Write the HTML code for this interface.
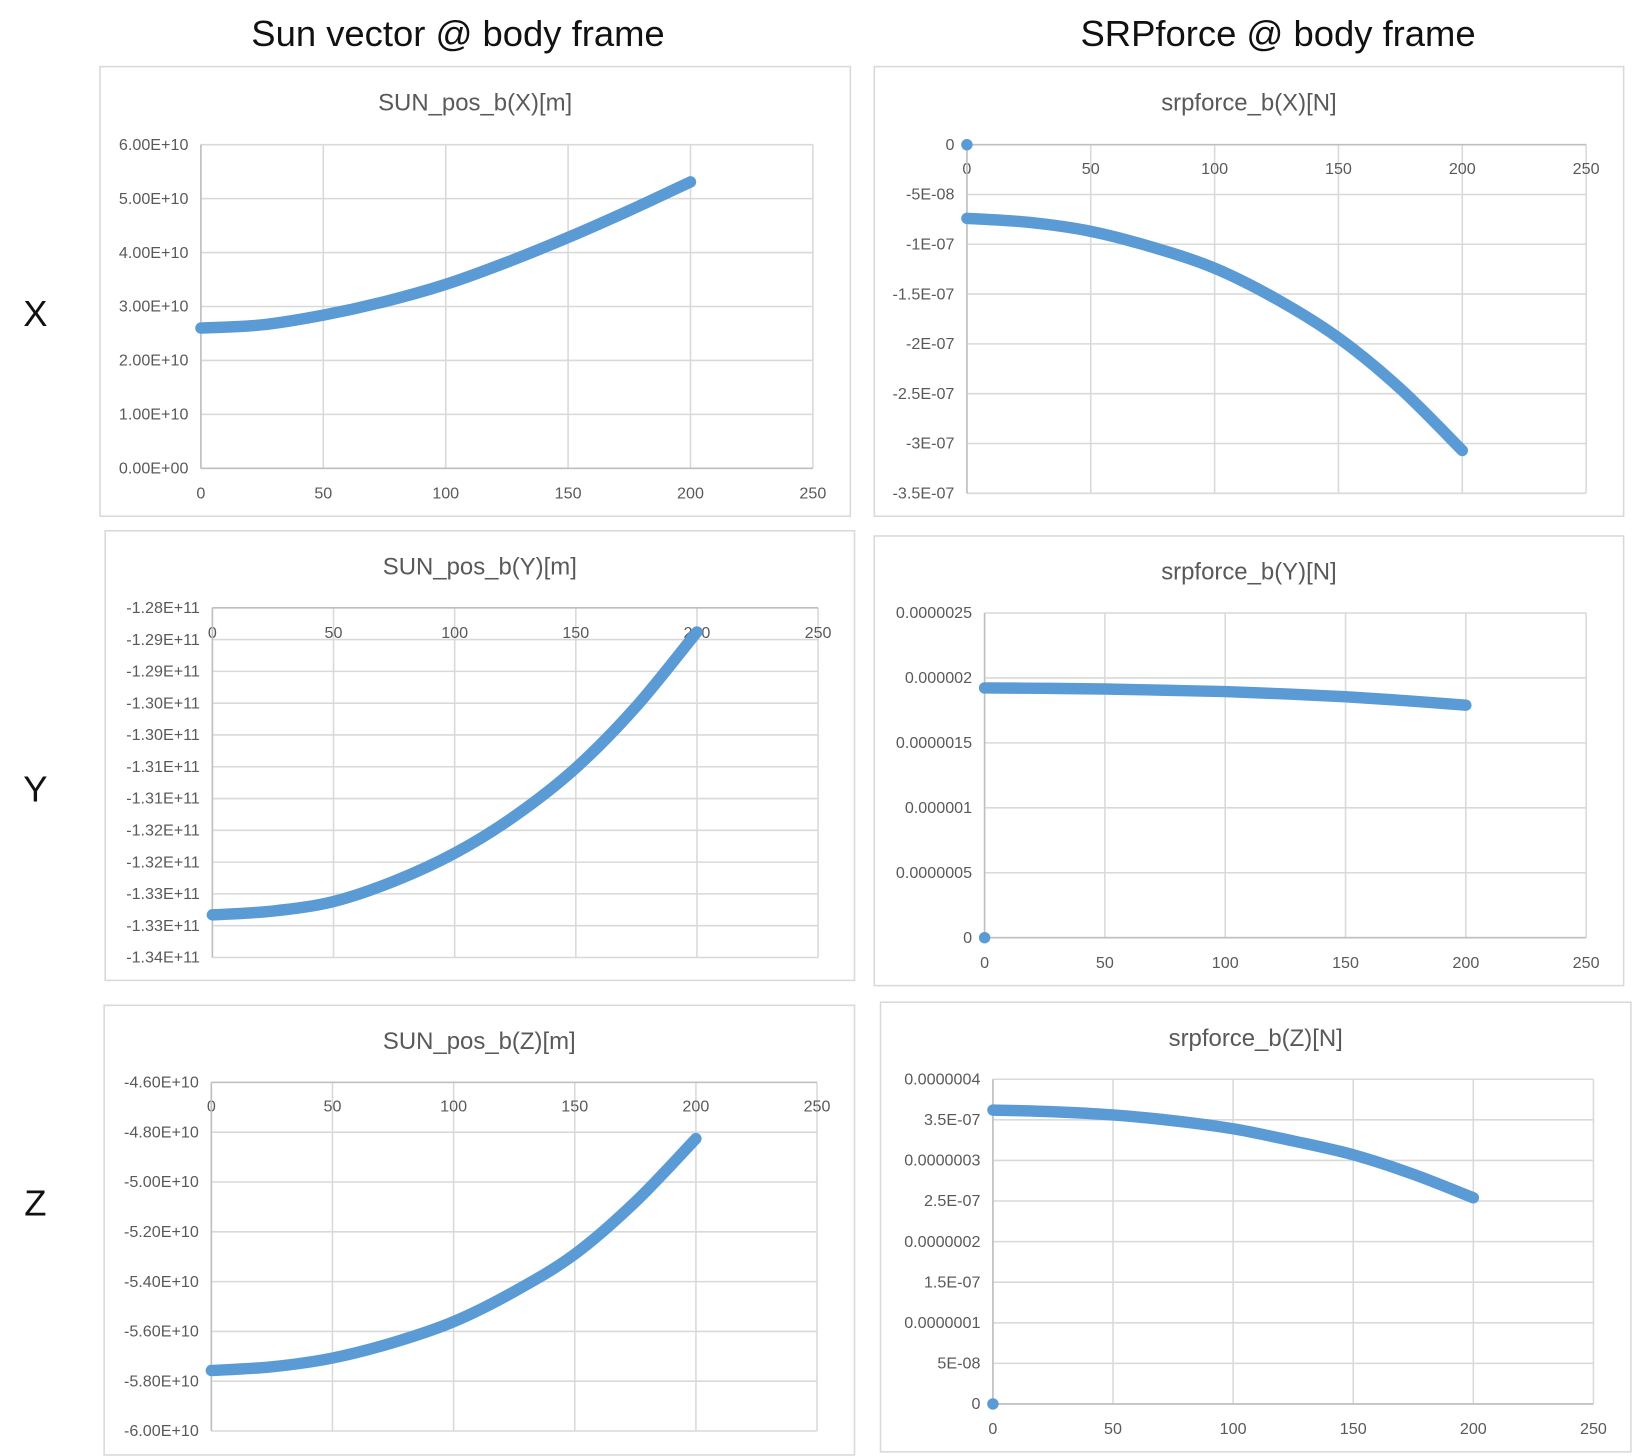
<!DOCTYPE html>
<html><head><meta charset="utf-8">
<style>
html,body{margin:0;padding:0;background:#fff;}
svg{display:block;font-family:"Liberation Sans","Noto Sans CJK JP",sans-serif;}
</style></head>
<body>
<svg id="root" width="1632" height="1456" viewBox="0 0 1568 1399" xmlns="http://www.w3.org/2000/svg">
<text x="440" y="44" font-size="35" text-anchor="middle" fill="#111">Sun vector @ body frame</text>
<text x="1228" y="44" font-size="35" text-anchor="middle" fill="#111">SRPforce @ body frame</text>
<text x="34" y="313" font-size="35" text-anchor="middle" fill="#111">X</text>
<text x="34" y="770" font-size="35" text-anchor="middle" fill="#111">Y</text>
<text x="34" y="1168" font-size="35" text-anchor="middle" fill="#111">Z</text>
</svg>
<script>
// ---- data arrays ----
const xCats = [0, 25, 50, 75, 100, 125, 150, 175, 200];
const sunX = [2.60e10, 2.66e10, 2.84e10, 3.09e10, 3.41e10, 3.82e10, 4.28e10, 4.78e10, 5.31e10];
const sunY = [-1.3283e11, -1.3277e11, -1.3262e11, -1.3230e11, -1.3186e11, -1.3127e11, -1.3052e11, -1.2955e11, -1.2838e11];
const sunZ = [-5.757e10, -5.742e10, -5.707e10, -5.645e10, -5.561e10, -5.44e10, -5.29e10, -5.08e10, -4.826e10];
const srpX = [-7.4e-8, -7.8e-8, -8.7e-8, -1.03e-7, -1.24e-7, -1.55e-7, -1.94e-7, -2.45e-7, -3.07e-7];
const srpY = [1.923e-6, 1.92e-6, 1.915e-6, 1.905e-6, 1.895e-6, 1.877e-6, 1.855e-6, 1.825e-6, 1.79e-6];
const srpZ = [3.62e-7, 3.60e-7, 3.56e-7, 3.49e-7, 3.39e-7, 3.24e-7, 3.07e-7, 2.83e-7, 2.54e-7];
const originPoint = [0, 0];
const xTicks = [0, 50, 100, 150, 200, 250];
const ticksSunX = ["6.00E+10","5.00E+10","4.00E+10","3.00E+10","2.00E+10","1.00E+10","0.00E+00"];
const ticksSunY = ["-1.28E+11","-1.29E+11","-1.29E+11","-1.30E+11","-1.30E+11","-1.31E+11","-1.31E+11","-1.32E+11","-1.32E+11","-1.33E+11","-1.33E+11","-1.34E+11"];
const ticksSunZ = ["-4.60E+10","-4.80E+10","-5.00E+10","-5.20E+10","-5.40E+10","-5.60E+10","-5.80E+10","-6.00E+10"];
const ticksSrpX = ["0","-5E-08","-1E-07","-1.5E-07","-2E-07","-2.5E-07","-3E-07","-3.5E-07"];
const ticksSrpY = ["0.0000025","0.000002","0.0000015","0.000001","0.0000005","0"];
const ticksSrpZ = ["0.0000004","3.5E-07","0.0000003","2.5E-07","0.0000002","1.5E-07","0.0000001","5E-08","0"];

const NS = "http://www.w3.org/2000/svg";
const root = document.getElementById('root');
function mk(tag, attrs, parent){const e=document.createElementNS(NS,tag);for(const k in attrs)e.setAttribute(k,attrs[k]);(parent||root).appendChild(e);return e;}

function chart(cfg){
  const g = mk('g',{});
  
  
  const box = mk('rect',{x:cfg.box[0],y:cfg.box[1],width:cfg.box[2]-cfg.box[0],height:cfg.box[3]-cfg.box[1],fill:'#fff',stroke:'#d9d9d9','stroke-width':1.5},g);
  
  
  const t = mk('text',{x:(cfg.box[0]+cfg.box[2])/2,y:cfg.box[1]+42,'font-size':23,'text-anchor':'middle',fill:'#595959'},g);
  t.textContent = cfg.title;
  
  
  const sx = v => cfg.L + v / 250 * (cfg.R - cfg.L);
  const sy = v => cfg.T + (cfg.ymax - v) / (cfg.ymax - cfg.ymin) * (cfg.B - cfg.T);
  const n = cfg.ticks.length;
  for (let i = 0; i < n; i++) {
    const y = cfg.T + i * (cfg.B - cfg.T) / (n - 1);
    const gl = mk('line',{x1:cfg.L,x2:cfg.R,y1:y,y2:y,stroke:'#d9d9d9','stroke-width':1.5},g);
    
    
    const lb = mk('text',{x:cfg.L-12,y:y+5,'font-size':15.5,'text-anchor':'end',fill:'#595959'},g);
    lb.textContent = cfg.ticks[i];
    
    
  }
  xTicks.forEach(v => {
    const x = sx(v);
    const gl = mk('line',{x1:x,x2:x,y1:cfg.T,y2:cfg.B,stroke:'#d9d9d9','stroke-width':1.5},g);
    
    
    const lb = mk('text',{x:x,y:cfg.xLabY,'font-size':15.5,'text-anchor':'middle',fill:'#595959'},g);
    lb.textContent = String(v);
    
    
  });
  const axY = cfg.axisAtTop ? cfg.T : cfg.B;
  const xa = mk('line',{x1:cfg.L,x2:cfg.R,y1:axY,y2:axY,stroke:'#bfbfbf','stroke-width':1.5},g);
  
  
  const ya = mk('line',{x1:cfg.L,x2:cfg.L,y1:cfg.T,y2:cfg.B,stroke:'#bfbfbf','stroke-width':1.5},g);
  
  
  const pts = xCats.map((x,i)=>[sx(x), sy(cfg.data[i])]);
  let d = 'M'+pts[0][0]+','+pts[0][1];
  for (let i=0;i<pts.length-1;i++){
    const p0=pts[Math.max(i-1,0)],p1=pts[i],p2=pts[i+1],p3=pts[Math.min(i+2,pts.length-1)];
    const c1=[p1[0]+(p2[0]-p0[0])/6,p1[1]+(p2[1]-p0[1])/6];
    const c2=[p2[0]-(p3[0]-p1[0])/6,p2[1]-(p3[1]-p1[1])/6];
    d+=' C'+c1[0]+','+c1[1]+' '+c2[0]+','+c2[1]+' '+p2[0]+','+p2[1];
  }
  const path = mk('path',{d:d,fill:'none',stroke:'#5b9bd5','stroke-width':11,'stroke-linecap':'round','stroke-linejoin':'round'},g);
  
  
  if (cfg.origin) {
    const c = mk('circle',{cx:sx(originPoint[0]),cy:sy(originPoint[1]),r:5.5,fill:'#5b9bd5'},g);
    
    
  }
}

chart({name:'sun-pos-x-chart',title:'SUN_pos_b(X)[m]',box:[96,64,817,496],L:193,R:781,T:139,B:450,ymin:0,ymax:6e10,ticks:ticksSunX,data:sunX,xLabY:479});
chart({name:'srpforce-x-chart',title:'srpforce_b(X)[N]',box:[840,64,1560,496],L:929,R:1524,T:139,B:474,ymin:-3.5e-7,ymax:0,ticks:ticksSrpX,data:srpX,xLabY:167,axisAtTop:true,origin:true});
chart({name:'sun-pos-y-chart',title:'SUN_pos_b(Y)[m]',box:[101,510,821,942],L:204,R:786,T:584,B:920,ymin:-1.335e11,ymax:-1.28e11,ticks:ticksSunY,data:sunY,xLabY:613,axisAtTop:true});
chart({name:'srpforce-y-chart',title:'srpforce_b(Y)[N]',box:[840,515,1560,947],L:946,R:1524,T:589,B:901,ymin:0,ymax:2.5e-6,ticks:ticksSrpY,data:srpY,xLabY:930,origin:true});
chart({name:'sun-pos-z-chart',title:'SUN_pos_b(Z)[m]',box:[100,966,821,1398],L:203,R:785,T:1040,B:1375,ymin:-6.0e10,ymax:-4.6e10,ticks:ticksSunZ,data:sunZ,xLabY:1068,axisAtTop:true});
chart({name:'srpforce-z-chart',title:'srpforce_b(Z)[N]',box:[846,963,1567,1395],L:954,R:1531,T:1037,B:1349,ymin:0,ymax:4e-7,ticks:ticksSrpZ,data:srpZ,xLabY:1378,origin:true});
</script>
</body></html>
